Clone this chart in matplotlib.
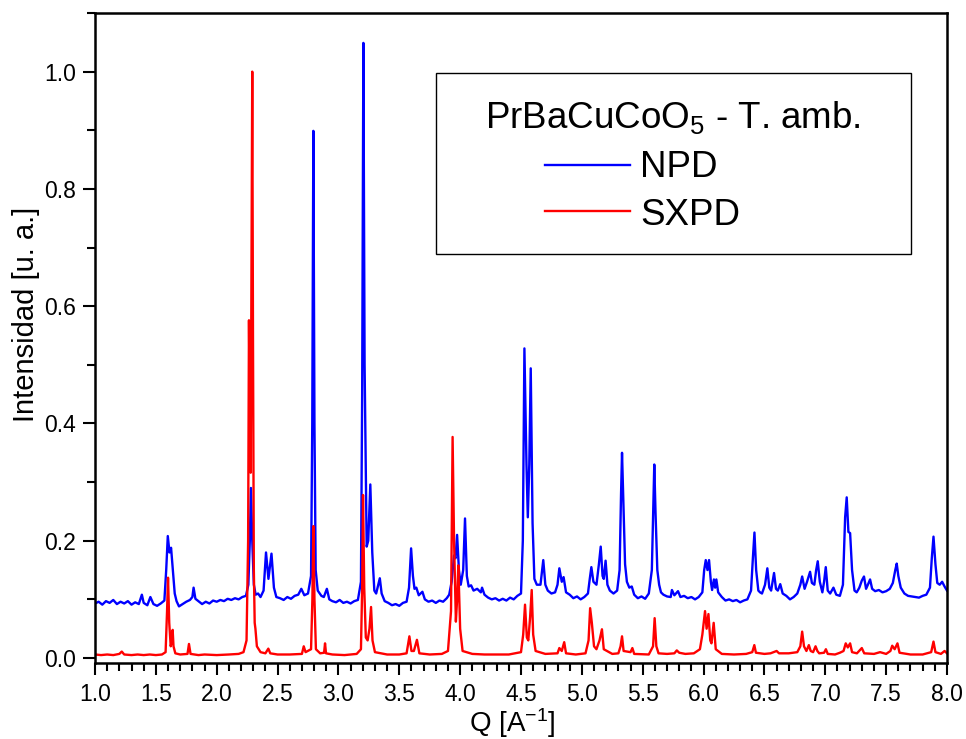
import matplotlib
matplotlib.use("Agg")
import matplotlib.pyplot as plt
from matplotlib.patches import Rectangle
from matplotlib.ticker import MultipleLocator

plt.rcParams['font.family'] = ['Liberation Sans', 'DejaVu Sans']
plt.rcParams['mathtext.default'] = 'regular'

# NPD pattern (polyline vertices)
q_npd = [1.00, 1.03, 1.06, 1.09, 1.12, 1.15, 1.18, 1.21, 1.24, 1.27, 1.30, 1.33, 1.36, 1.385, 1.40, 1.43,
         1.455, 1.48, 1.51, 1.54, 1.57, 1.585, 1.598, 1.612, 1.625, 1.64, 1.655, 1.67, 1.69, 1.72, 1.75,
         1.78, 1.80, 1.81, 1.825, 1.85, 1.88, 1.91, 1.94, 1.97, 2.00, 2.03, 2.06, 2.09, 2.12, 2.15, 2.18,
         2.21, 2.24, 2.26, 2.272, 2.281, 2.292, 2.305, 2.32, 2.34, 2.36, 2.385, 2.405, 2.425, 2.45, 2.47,
         2.49, 2.52, 2.55, 2.58, 2.61, 2.64, 2.67, 2.695, 2.72, 2.75, 2.775, 2.785, 2.794, 2.803, 2.813,
         2.83, 2.86, 2.88, 2.905, 2.925, 2.95, 2.98, 3.01, 3.04, 3.07, 3.10, 3.13, 3.16, 3.185, 3.195,
         3.205, 3.215, 3.232, 3.245, 3.262, 3.278, 3.295, 3.31, 3.34, 3.355, 3.38, 3.41, 3.44, 3.47, 3.50,
         3.53, 3.56, 3.58, 3.597, 3.612, 3.625, 3.64, 3.66, 3.69, 3.71, 3.74, 3.77, 3.80, 3.83, 3.86, 3.89,
         3.91, 3.93, 3.95, 3.962, 3.975, 3.99, 4.005, 4.025, 4.04, 4.055, 4.07, 4.09, 4.11, 4.14, 4.17,
         4.18, 4.20, 4.23, 4.26, 4.29, 4.32, 4.35, 4.38, 4.41, 4.44, 4.47, 4.50, 4.515, 4.528, 4.545,
         4.556, 4.568, 4.58, 4.595, 4.61, 4.63, 4.66, 4.683, 4.70, 4.72, 4.75, 4.78, 4.80, 4.815, 4.835,
         4.85, 4.87, 4.90, 4.93, 4.96, 4.99, 5.02, 5.05, 5.065, 5.078, 5.095, 5.12, 5.14, 5.155, 5.17,
         5.18, 5.195, 5.21, 5.23, 5.26, 5.29, 5.31, 5.322, 5.33, 5.342, 5.355, 5.37, 5.39, 5.41, 5.43,
         5.46, 5.49, 5.52, 5.55, 5.575, 5.587, 5.595, 5.605, 5.62, 5.635, 5.65, 5.67, 5.70, 5.73, 5.74,
         5.76, 5.79, 5.81, 5.84, 5.87, 5.90, 5.93, 5.96, 5.99, 6.005, 6.018, 6.032, 6.045, 6.06, 6.07,
         6.085, 6.095, 6.105, 6.12, 6.15, 6.18, 6.21, 6.24, 6.27, 6.30, 6.33, 6.36, 6.39, 6.405, 6.418,
         6.432, 6.45, 6.464, 6.48, 6.505, 6.524, 6.54, 6.555, 6.579, 6.595, 6.61, 6.63, 6.65, 6.68, 6.71,
         6.74, 6.77, 6.795, 6.81, 6.83, 6.85, 6.875, 6.89, 6.91, 6.925, 6.938, 6.955, 6.976, 6.99, 7.004,
         7.02, 7.04, 7.067, 7.09, 7.12, 7.145, 7.163, 7.176, 7.19, 7.204, 7.22, 7.24, 7.258, 7.28, 7.30,
         7.318, 7.335, 7.35, 7.368, 7.385, 7.41, 7.44, 7.47, 7.50, 7.53, 7.555, 7.575, 7.587, 7.60, 7.62,
         7.65, 7.68, 7.71, 7.74, 7.77, 7.80, 7.83, 7.86, 7.875, 7.889, 7.905, 7.92, 7.94, 7.96, 7.98, 8.00]
i_npd = [0.093, 0.096, 0.091, 0.097, 0.094, 0.099, 0.092, 0.096, 0.093, 0.097, 0.091, 0.095, 0.092, 0.108,
         0.094, 0.090, 0.104, 0.092, 0.089, 0.093, 0.098, 0.150, 0.208, 0.180, 0.188, 0.150, 0.110, 0.097,
         0.088, 0.092, 0.096, 0.099, 0.104, 0.120, 0.101, 0.097, 0.092, 0.096, 0.093, 0.098, 0.096, 0.099,
         0.097, 0.101, 0.099, 0.102, 0.100, 0.104, 0.106, 0.125, 0.200, 0.290, 0.200, 0.125, 0.108, 0.110,
         0.104, 0.115, 0.180, 0.135, 0.178, 0.120, 0.104, 0.102, 0.099, 0.104, 0.101, 0.106, 0.108, 0.118,
         0.107, 0.110, 0.140, 0.400, 0.899, 0.400, 0.150, 0.115, 0.106, 0.104, 0.118, 0.100, 0.097, 0.095,
         0.099, 0.094, 0.096, 0.093, 0.097, 0.099, 0.130, 0.450, 1.049, 0.500, 0.190, 0.200, 0.296, 0.180,
         0.115, 0.110, 0.136, 0.110, 0.097, 0.094, 0.090, 0.092, 0.089, 0.094, 0.096, 0.120, 0.187, 0.140,
         0.118, 0.120, 0.107, 0.113, 0.100, 0.096, 0.098, 0.094, 0.098, 0.096, 0.102, 0.108, 0.130, 0.175,
         0.170, 0.210, 0.150, 0.125, 0.150, 0.238, 0.140, 0.122, 0.124, 0.115, 0.118, 0.112, 0.120, 0.108,
         0.103, 0.100, 0.102, 0.098, 0.101, 0.098, 0.103, 0.100, 0.106, 0.110, 0.200, 0.528, 0.330, 0.240,
         0.330, 0.494, 0.230, 0.135, 0.125, 0.125, 0.167, 0.125, 0.115, 0.110, 0.112, 0.125, 0.153, 0.130,
         0.138, 0.112, 0.108, 0.102, 0.105, 0.100, 0.104, 0.110, 0.135, 0.155, 0.130, 0.125, 0.160, 0.190,
         0.140, 0.135, 0.166, 0.125, 0.115, 0.110, 0.115, 0.150, 0.280, 0.350, 0.260, 0.160, 0.130, 0.120,
         0.122, 0.108, 0.102, 0.105, 0.101, 0.110, 0.150, 0.260, 0.330, 0.250, 0.150, 0.125, 0.112, 0.108,
         0.105, 0.104, 0.116, 0.107, 0.114, 0.104, 0.106, 0.102, 0.104, 0.100, 0.104, 0.112, 0.150, 0.167,
         0.150, 0.167, 0.130, 0.116, 0.134, 0.120, 0.134, 0.112, 0.104, 0.098, 0.100, 0.097, 0.099, 0.095,
         0.098, 0.100, 0.115, 0.170, 0.214, 0.150, 0.115, 0.112, 0.110, 0.125, 0.153, 0.120, 0.115, 0.145,
         0.118, 0.115, 0.126, 0.110, 0.106, 0.100, 0.104, 0.110, 0.125, 0.139, 0.118, 0.130, 0.147, 0.128,
         0.125, 0.150, 0.165, 0.130, 0.112, 0.130, 0.155, 0.115, 0.110, 0.120, 0.108, 0.106, 0.125, 0.240,
         0.274, 0.215, 0.213, 0.150, 0.115, 0.112, 0.120, 0.132, 0.139, 0.118, 0.125, 0.134, 0.118, 0.114,
         0.116, 0.112, 0.114, 0.118, 0.128, 0.150, 0.161, 0.140, 0.120, 0.110, 0.106, 0.105, 0.104, 0.103,
         0.106, 0.108, 0.120, 0.170, 0.207, 0.160, 0.128, 0.125, 0.130, 0.122, 0.115]

# SXPD pattern (polyline vertices)
q_sxpd = [1.00, 1.05, 1.10, 1.15, 1.20, 1.22, 1.24, 1.30, 1.35, 1.40, 1.45, 1.50, 1.55, 1.58, 1.592, 1.60,
          1.61, 1.622, 1.632, 1.638, 1.645, 1.66, 1.70, 1.76, 1.772, 1.785, 1.85, 1.90, 2.00, 2.10, 2.18,
          2.22, 2.245, 2.258, 2.265, 2.272, 2.279, 2.286, 2.292, 2.298, 2.305, 2.312, 2.318, 2.33, 2.36,
          2.40, 2.424, 2.44, 2.50, 2.60, 2.70, 2.715, 2.73, 2.775, 2.786, 2.794, 2.803, 2.815, 2.85, 2.882,
          2.89, 2.898, 2.95, 3.05, 3.15, 3.185, 3.195, 3.202, 3.212, 3.225, 3.24, 3.255, 3.268, 3.28, 3.30,
          3.40, 3.50, 3.56, 3.583, 3.60, 3.62, 3.645, 3.665, 3.75, 3.85, 3.90, 3.925, 3.938, 3.95, 3.965,
          3.975, 3.985, 4.00, 4.02, 4.10, 4.20, 4.30, 4.40, 4.50, 4.518, 4.533, 4.548, 4.56, 4.575, 4.588,
          4.60, 4.62, 4.70, 4.80, 4.815, 4.835, 4.855, 4.87, 4.95, 5.03, 5.055, 5.068, 5.082, 5.10, 5.12,
          5.145, 5.165, 5.18, 5.25, 5.30, 5.318, 5.33, 5.343, 5.40, 5.415, 5.43, 5.55, 5.585, 5.598, 5.612,
          5.63, 5.70, 5.76, 5.78, 5.80, 5.85, 5.92, 5.97, 5.99, 6.012, 6.025, 6.04, 6.055, 6.065, 6.083,
          6.10, 6.15, 6.25, 6.35, 6.40, 6.417, 6.43, 6.50, 6.55, 6.60, 6.62, 6.70, 6.77, 6.795, 6.81, 6.825,
          6.845, 6.865, 6.88, 6.90, 6.92, 6.935, 6.95, 6.99, 7.005, 7.02, 7.08, 7.12, 7.15, 7.168, 7.185,
          7.204, 7.22, 7.26, 7.30, 7.32, 7.40, 7.45, 7.50, 7.535, 7.55, 7.57, 7.593, 7.61, 7.70, 7.80,
          7.87, 7.889, 7.905, 7.95, 7.98, 8.00]
i_sxpd = [0.006, 0.005, 0.006, 0.005, 0.007, 0.011, 0.006, 0.005, 0.006, 0.005, 0.006, 0.005, 0.006, 0.010,
          0.080, 0.137, 0.060, 0.020, 0.030, 0.048, 0.020, 0.008, 0.006, 0.007, 0.024, 0.007, 0.005, 0.006,
          0.005, 0.006, 0.007, 0.010, 0.030, 0.200, 0.576, 0.400, 0.316, 0.700, 1.000, 0.550, 0.150, 0.060,
          0.050, 0.020, 0.010, 0.008, 0.016, 0.008, 0.006, 0.006, 0.007, 0.020, 0.010, 0.015, 0.100, 0.225,
          0.100, 0.015, 0.008, 0.009, 0.025, 0.008, 0.006, 0.005, 0.007, 0.015, 0.120, 0.278, 0.120, 0.035,
          0.030, 0.050, 0.087, 0.030, 0.010, 0.006, 0.006, 0.008, 0.037, 0.012, 0.012, 0.031, 0.008, 0.006,
          0.007, 0.012, 0.080, 0.377, 0.200, 0.062, 0.100, 0.158, 0.050, 0.012, 0.007, 0.006, 0.006, 0.006,
          0.010, 0.040, 0.091, 0.035, 0.030, 0.070, 0.116, 0.040, 0.012, 0.007, 0.008, 0.017, 0.012, 0.027,
          0.008, 0.006, 0.008, 0.030, 0.085, 0.060, 0.020, 0.015, 0.030, 0.049, 0.015, 0.007, 0.008, 0.020,
          0.037, 0.012, 0.010, 0.017, 0.007, 0.006, 0.020, 0.068, 0.020, 0.008, 0.007, 0.008, 0.013, 0.009,
          0.007, 0.008, 0.015, 0.040, 0.080, 0.050, 0.075, 0.030, 0.025, 0.060, 0.015, 0.007, 0.006, 0.007,
          0.010, 0.022, 0.009, 0.007, 0.008, 0.012, 0.008, 0.008, 0.010, 0.020, 0.045, 0.020, 0.012, 0.022,
          0.012, 0.010, 0.020, 0.012, 0.008, 0.009, 0.015, 0.007, 0.006, 0.009, 0.012, 0.025, 0.018, 0.025,
          0.010, 0.008, 0.017, 0.008, 0.007, 0.010, 0.007, 0.012, 0.021, 0.015, 0.025, 0.009, 0.006, 0.006,
          0.010, 0.028, 0.010, 0.007, 0.012, 0.008]

series_labels = ['NPD', 'SXPD']
legend_title = 'PrBaCuCoO$_5$ - T. amb.'
x_label = 'Q [A$^{-1}$]'
y_label = 'Intensidad [u. a.]'

fig = plt.figure(figsize=(9.66, 7.39), dpi=100)
ax = fig.add_axes([95/966, 1 - 663/739, 852/966, 650/739])

ax.plot(q_npd, i_npd, color='#0000FF', lw=1.7)
ax.plot(q_sxpd, i_sxpd, color='#FF0000', lw=1.7)

ax.set_xlim(1.0, 8.0)
ax.set_ylim(-0.0085, 1.1)
ax.xaxis.set_major_locator(MultipleLocator(0.5))
ax.xaxis.set_minor_locator(MultipleLocator(0.1))
ax.yaxis.set_major_locator(MultipleLocator(0.2))
ax.yaxis.set_minor_locator(MultipleLocator(0.1))
ax.xaxis.set_major_formatter(plt.FormatStrFormatter('%.1f'))
ax.yaxis.set_major_formatter(plt.FormatStrFormatter('%.1f'))
ax.tick_params(which='major', direction='out', length=8.5, width=1.5, labelsize=16.5, pad=5)
ax.tick_params(which='minor', direction='out', length=5.5, width=1.5)
ax.tick_params(axis='x', which='major', pad=6)
for s in ax.spines.values():
    s.set_linewidth(1.8)

ax.set_xlabel(x_label, fontsize=20, labelpad=0)
ax.set_ylabel(y_label, fontsize=21, labelpad=3)
ax.xaxis.label.set_x(0.49)
ax.yaxis.label.set_y(0.536)

# legend box drawn in axes coordinates
ax.add_patch(Rectangle((0.400, 0.629), 0.558, 0.279, transform=ax.transAxes,
                       fill=False, edgecolor='black', lw=1.0, zorder=5))
ax.text(0.678, 0.823, legend_title, transform=ax.transAxes, fontsize=26.5,
        ha='center', va='baseline', zorder=6)
ax.plot([0.528, 0.628], [0.766, 0.766], transform=ax.transAxes, color='#0000FF', lw=1.7)
ax.plot([0.528, 0.628], [0.695, 0.695], transform=ax.transAxes, color='#FF0000', lw=1.7)
ax.text(0.640, 0.748, series_labels[0], transform=ax.transAxes, fontsize=26.5, va='baseline')
ax.text(0.640, 0.674, series_labels[1], transform=ax.transAxes, fontsize=26.5, va='baseline')

fig.savefig('out.png', dpi=100)
